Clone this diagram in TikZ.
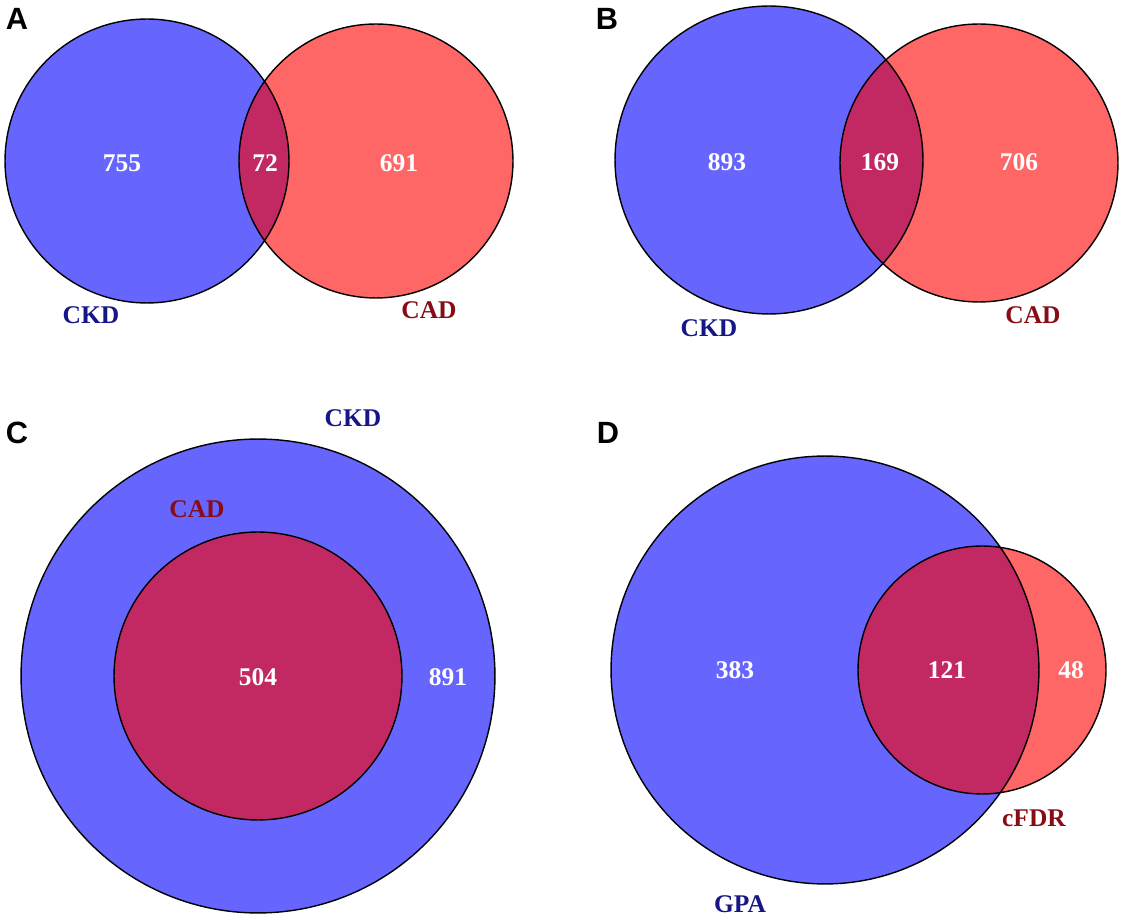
\documentclass[tikz,border=0pt]{standalone}
\usepackage{fontspec}
\setmainfont{Liberation Serif}
\newfontfamily\panelfont{Liberation Sans}

\definecolor{setblue}{RGB}{102,102,255}
\definecolor{setred}{RGB}{255,102,102}
\definecolor{setboth}{RGB}{194,41,98}
\definecolor{lblblue}{RGB}{22,22,135}
\definecolor{lblred}{RGB}{135,12,22}

\tikzset{
  ckdset/.style={fill=setblue},
  cadset/.style={fill=setred},
  bothset/.style={fill=setboth},
  outline/.style={draw=black, line width=0.8pt},
  count/.style={text=white, font=\bfseries\fontsize{14.5}{16}\selectfont},
  bluelbl/.style={text=lblblue, font=\bfseries\fontsize{14.5}{16}\selectfont},
  redlbl/.style={text=lblred, font=\bfseries\fontsize{14.5}{16}\selectfont},
  panel/.style={text=black, font=\panelfont\bfseries\fontsize{17.5}{20}\selectfont}
}

\begin{document}
\begin{tikzpicture}[x=0.02cm, y=-0.02cm]
  \useasboundingbox (0,0) rectangle (1127,918);

  % panel A
  \fill[ckdset] (147,161) circle (2.84cm);
  \fill[cadset] (376,161) circle (2.74cm);
  \begin{scope}
    \clip (147,161) circle (2.84cm);
    \fill[bothset] (376,161) circle (2.74cm);
  \end{scope}
  \draw[outline] (147,161) circle (2.84cm) (376,161) circle (2.74cm);
  \node[panel] (pa) at (17,19) {A};
  \node[count] (a1) at (122,163) {755};
  \node[count] (a2) at (265,163) {72};
  \node[count] (a3) at (399,163) {691};
  \node[bluelbl] (ackd) at (91,315) {CKD};
  \node[redlbl] (acad) at (429,310) {CAD};

  % panel B
  \fill[ckdset] (769,160) circle (3.08cm);
  \fill[cadset] (979,163) circle (2.78cm);
  \begin{scope}
    \clip (769,160) circle (3.08cm);
    \fill[bothset] (979,163) circle (2.78cm);
  \end{scope}
  \draw[outline] (769,160) circle (3.08cm) (979,163) circle (2.78cm);
  \node[panel] (pb) at (607,19) {B};
  \node[count] (b1) at (727,162) {893};
  \node[count] (b2) at (880,162) {169};
  \node[count] (b3) at (1019,162) {706};
  \node[bluelbl] (bckd) at (709,328) {CKD};
  \node[redlbl] (bcad) at (1033,315) {CAD};

  % panel C
  \fill[ckdset] (258,676) circle (4.74cm);
  \fill[bothset] (258,676) circle (2.88cm);
  \draw[outline] (258,676) circle (4.74cm) (258,676) circle (2.88cm);
  \node[panel] (pc) at (17,433) {C};
  \node[count] (c1) at (258,677) {504};
  \node[count] (c2) at (448,677) {891};
  \node[redlbl] (ccad) at (197,509) {CAD};
  \node[bluelbl] (cckd) at (353,418) {CKD};

  % panel D
  \fill[ckdset] (825,670) circle (4.28cm);
  \fill[cadset] (982,670) circle (2.48cm);
  \begin{scope}
    \clip (825,670) circle (4.28cm);
    \fill[bothset] (982,670) circle (2.48cm);
  \end{scope}
  \draw[outline] (825,670) circle (4.28cm) (982,670) circle (2.48cm);
  \node[panel] (pd) at (608,433) {D};
  \node[count] (d1) at (735,670) {383};
  \node[count] (d2) at (947,670) {121};
  \node[count] (d3) at (1071,670) {48};
  \node[redlbl] (dcfdr) at (1034,818) {cFDR};
  \node[bluelbl] (dgpa) at (740,904) {GPA};

\end{tikzpicture}
\end{document}
